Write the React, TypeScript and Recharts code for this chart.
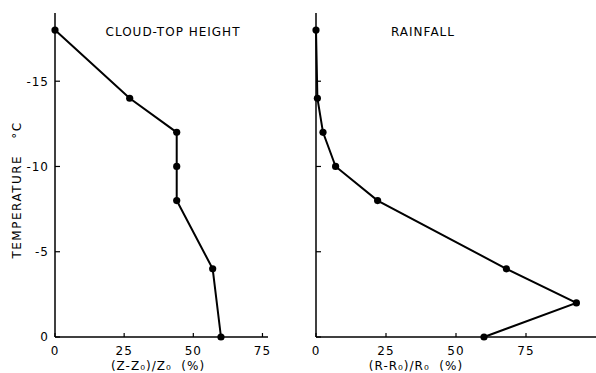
import { ScatterChart, Scatter, XAxis, YAxis } from 'recharts';

// temperature levels (deg C) and percent changes
const cloudTemps = [-18, -14, -12, -10, -8, -4, 0];
const cloudTopPct = [0, 27, 44, 44, 44, 57, 60];
const rainTemps = [-18, -14, -12, -10, -8, -4, -2, 0];
const rainfallPct = [0, 0.5, 2.5, 7, 22, 68, 93, 60];

const tempTicks = [-15, -10, -5, 0];
const pctTicks = [0, 25, 50, 75];

const cloudData = cloudTemps.map((t, i) => ({ temp: t, pct: cloudTopPct[i] }));
const rainData = rainTemps.map((t, i) => ({ temp: t, pct: rainfallPct[i] }));

const FONT = '"DejaVu Sans", sans-serif';
const Y_MARGIN = 6;
const X_MARGIN = 9;

const YTick = (props: any) => {
  const { x, y, payload, showLabel } = props;
  const ax = x + Y_MARGIN;
  return (
    <g>
      <line x1={ax} x2={ax + 5} y1={y} y2={y} stroke="#000" strokeWidth={1.2} />
      {showLabel && (
        <text
          x={x}
          y={y}
          dy="0.36em"
          textAnchor="end"
          fontSize={12}
          fontFamily={FONT}
          letterSpacing={1}
          fill="#000"
        >
          {payload.value}
        </text>
      )}
    </g>
  );
};

const XTick = (props: any) => {
  const { x, y, payload } = props;
  const ay = y - X_MARGIN;
  return (
    <g>
      <line x1={x} x2={x} y1={ay} y2={ay - 4} stroke="#000" strokeWidth={1.2} />
      <text
        x={x}
        y={y}
        dy="0.71em"
        textAnchor="middle"
        fontSize={12}
        fontFamily={FONT}
        letterSpacing={1}
        fill="#000"
      >
        {payload.value}
      </text>
    </g>
  );
};

const dot = (p: any) => <circle cx={p.cx} cy={p.cy} r={3.6} fill="#000" />;

const axisLine = { stroke: '#000', strokeWidth: 1.5 };

const textStyle = {
  position: 'absolute' as const,
  fontFamily: FONT,
  fontSize: 12,
  lineHeight: '12px',
  letterSpacing: 1,
  color: '#000',
  whiteSpace: 'pre' as const,
  textAlign: 'center' as const,
  width: 200,
};

export default function App() {
  return (
    <div
      style={{
        position: 'absolute',
        left: 0,
        top: 0,
        width: 596,
        height: 373,
        background: '#fff',
        overflow: 'hidden',
      }}
    >
      <div style={{ position: 'absolute', left: 0, top: 0 }}>
        <ScatterChart width={280} height={373} margin={{ top: 13, right: 12, bottom: 2, left: 10 }}>
          <XAxis
            type="number"
            dataKey="pct"
            domain={[0, 77]}
            ticks={pctTicks}
            tickSize={0}
            tickMargin={X_MARGIN}
            tickLine={false}
            tick={(p: any) => <XTick {...p} />}
            axisLine={axisLine}
            height={34}
          />
          <YAxis
            type="number"
            dataKey="temp"
            domain={[-19, 0]}
            reversed
            ticks={tempTicks}
            tickSize={0}
            tickMargin={Y_MARGIN}
            tickLine={false}
            tick={(p: any) => <YTick {...p} showLabel />}
            axisLine={axisLine}
            width={45}
          />
          <Scatter
            data={cloudData}
            line={{ stroke: '#000', strokeWidth: 2 }}
            lineType="joint"
            shape={dot}
            isAnimationActive={false}
          />
        </ScatterChart>
      </div>

      <div style={{ position: 'absolute', left: 290, top: 0 }}>
        <ScatterChart width={306} height={373} margin={{ top: 13, right: 0, bottom: 2, left: 10 }}>
          <XAxis
            type="number"
            dataKey="pct"
            domain={[0, 100]}
            ticks={pctTicks}
            tickSize={0}
            tickMargin={X_MARGIN}
            tickLine={false}
            tick={(p: any) => <XTick {...p} />}
            axisLine={axisLine}
            height={34}
          />
          <YAxis
            type="number"
            dataKey="temp"
            domain={[-19, 0]}
            reversed
            ticks={tempTicks}
            tickSize={0}
            tickMargin={Y_MARGIN}
            tickLine={false}
            tick={(p: any) => <YTick {...p} showLabel={false} />}
            axisLine={axisLine}
            width={16}
          />
          <Scatter
            data={rainData}
            line={{ stroke: '#000', strokeWidth: 2 }}
            lineType="joint"
            shape={dot}
            isAnimationActive={false}
          />
        </ScatterChart>
      </div>

      {/* titles and axis captions */}
      <div style={{ ...textStyle, left: 173 - 100, top: 26 }}>CLOUD-TOP HEIGHT</div>
      <div style={{ ...textStyle, left: 423 - 100, top: 26 }}>RAINFALL</div>
      <div style={{ ...textStyle, left: 158 - 100, top: 360 }}>(Z-Z₀)/Z₀  (%)</div>
      <div style={{ ...textStyle, left: 416 - 100, top: 360 }}>(R-R₀)/R₀  (%)</div>
      <div
        style={{
          ...textStyle,
          left: 17 - 100,
          top: 190 - 6,
          height: 12,
          transform: 'rotate(-90deg)',
          transformOrigin: 'center',
          letterSpacing: 1.5,
        }}
      >
        TEMPERATURE   °C
      </div>
    </div>
  );
}
